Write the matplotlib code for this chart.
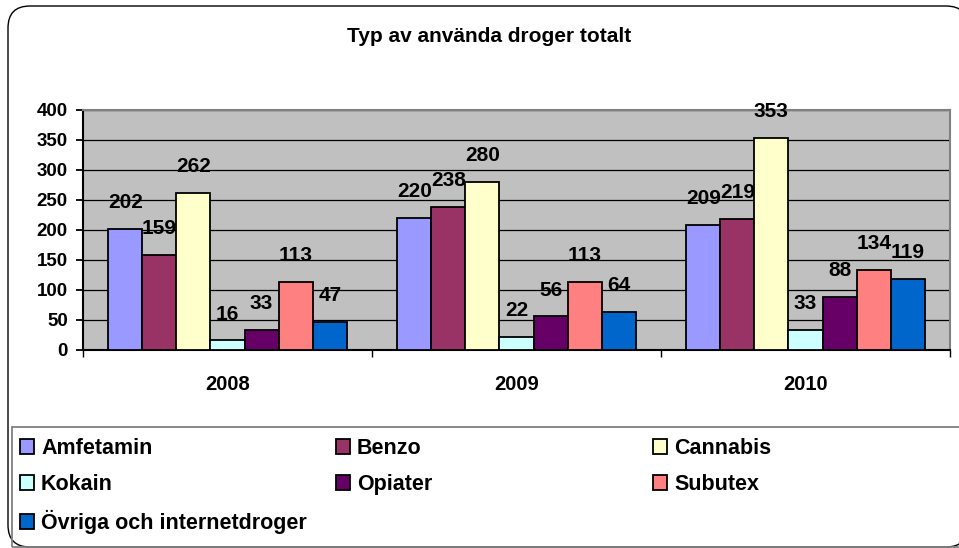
import numpy as np
import matplotlib
matplotlib.use("Agg")
from matplotlib import pyplot as plt
from matplotlib.patches import FancyBboxPatch, Rectangle
from matplotlib.transforms import IdentityTransform

plt.rcParams['font.family'] = ['Liberation Sans', 'DejaVu Sans']
plt.rcParams['font.weight'] = 'bold'

years = ["2008", "2009", "2010"]
drugs = ["Amfetamin", "Benzo", "Cannabis", "Kokain", "Opiater", "Subutex",
         "Övriga och internetdroger"]
amfetamin = [202, 220, 209]
benzo = [159, 238, 219]
cannabis = [262, 280, 353]
kokain = [16, 22, 33]
opiater = [33, 56, 88]
subutex = [113, 113, 134]
ovriga = [47, 64, 119]
series = [amfetamin, benzo, cannabis, kokain, opiater, subutex, ovriga]
colors = ["#9999FF", "#993366", "#FFFFCC", "#CCFFFF", "#660066", "#FF8080", "#0066CC"]
yticks = [0, 50, 100, 150, 200, 250, 300, 350, 400]

W, H = 959, 548
fig = plt.figure(figsize=(W / 100, H / 100), dpi=100)

# outer rounded frame (pixel coords, origin bottom-left)
frame = FancyBboxPatch((8, 1), 960, 541, boxstyle="round,pad=0,rounding_size=22",
                       transform=IdentityTransform(), facecolor="white",
                       edgecolor="black", linewidth=1.0, zorder=-2)
fig.patches.append(frame)
# legend box
legbox = Rectangle((12, 1), 960, H - 427 - 1, transform=IdentityTransform(),
                   facecolor="none", edgecolor="#808080", linewidth=1.3, zorder=-1)
fig.patches.append(legbox)

ax = fig.add_axes([83 / W, (H - 350) / H, (950 - 83) / W, 240 / H])
ax.set_facecolor("#C0C0C0")

x = np.arange(len(years))
w = 0.118
bars = []
for i, (vals, col, name) in enumerate(zip(series, colors, drugs)):
    b = ax.bar(x + (i - 3) * w, vals, w, color=col, edgecolor="black",
               linewidth=1.3, label=name, zorder=3)
    bars.append(b)
    for xi, v in zip(x + (i - 3) * w, vals):
        ax.annotate(str(v), (xi, v), xytext=(0, 19), textcoords="offset points",
                    ha="center", va="center", fontsize=15, fontweight="bold",
                    zorder=5)

ax.set_xlim(-0.5, 2.5)
ax.set_ylim(0, 400)
ax.set_yticks(yticks)
ax.set_yticklabels([str(t) for t in yticks], fontsize=13.5, fontweight="bold")
ax.yaxis.grid(True, color="black", linewidth=0.9)
ax.set_axisbelow(True)
ax.tick_params(axis="y", direction="out", length=5, width=1.3, pad=6)

ax.set_xticks(x)
ax.set_xticklabels(years, fontsize=14.5, fontweight="bold")
ax.set_xticks([-0.5, 0.5, 1.5, 2.5], minor=True)
ax.tick_params(axis="x", which="major", length=0, pad=18)
ax.tick_params(axis="x", which="minor", direction="out", length=5, width=1.0)

for s in ["left", "bottom"]:
    ax.spines[s].set_color("black")
    ax.spines[s].set_linewidth(1.5)
for s in ["top", "right"]:
    ax.spines[s].set_color("#808080")
    ax.spines[s].set_linewidth(1.5)

fig.text(489 / W, 1 - 37 / H, "Typ av använda droger totalt", ha="center",
         va="center", fontsize=15, fontweight="bold")

# legend: three equal columns, filled row by row
columns = [[0, 3, 6], [1, 4], [2, 5]]
col_x = [20, 336, 653]
for idx, cx in zip(columns, col_x):
    leg = fig.legend([bars[i] for i in idx], [drugs[i] for i in idx],
                     loc="upper left", bbox_to_anchor=(cx / W, 1 - 438 / H),
                     prop={"size": 15.5, "weight": "bold"},
                     handlelength=0.65, handleheight=0.65, handletextpad=0.33,
                     labelspacing=0.7, borderpad=0, borderaxespad=0,
                     frameon=False)
    for p in leg.get_patches():
        p.set_linewidth(1.3)

fig.savefig("out.png", dpi=100)
